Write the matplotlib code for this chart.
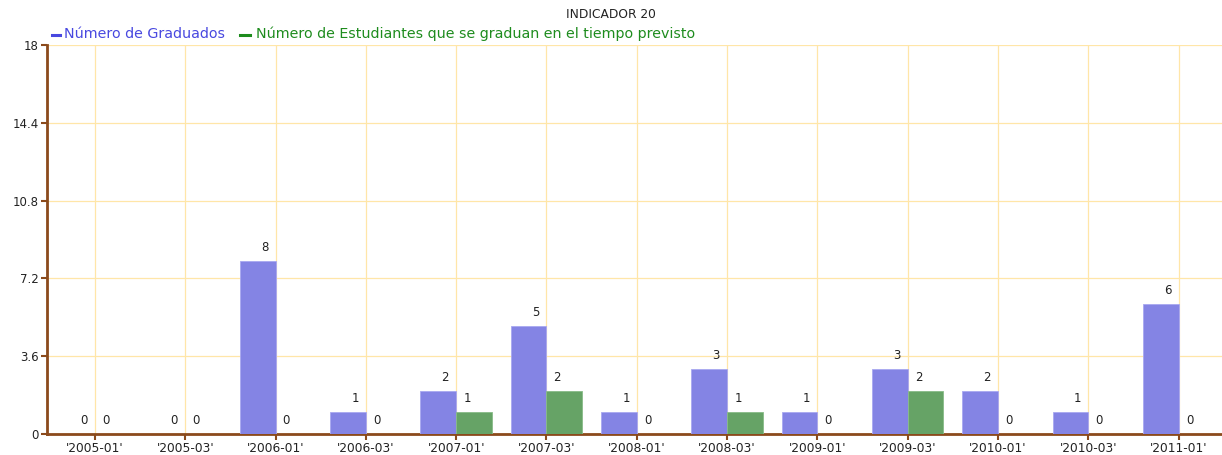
import matplotlib
matplotlib.use("Agg")
import matplotlib.pyplot as plt
from matplotlib.lines import Line2D
import numpy as np

categories = ["'2005-01'", "'2005-03'", "'2006-01'", "'2006-03'", "'2007-01'", "'2007-03'",
              "'2008-01'", "'2008-03'", "'2009-01'", "'2009-03'", "'2010-01'", "'2010-03'", "'2011-01'"]
graduados = [0, 0, 8, 1, 2, 5, 1, 3, 1, 3, 2, 1, 6]
a_tiempo = [0, 0, 0, 0, 1, 2, 0, 1, 0, 2, 0, 0, 0]
yticks = [0, 3.6, 7.2, 10.8, 14.4, 18]
ytick_labels = ["0", "3.6", "7.2", "10.8", "14.4", "18"]

blue = "#8484E4"
green = "#66A366"
brown = "#8B4A1C"
grid = "#FFE6A8"

fig = plt.figure(figsize=(12.22, 4.55), dpi=100)
ax = fig.add_axes([0.0385, 0.0462, 0.9615, 0.855])
x = np.arange(len(categories))
w = 0.395
ax.bar(x - w / 2, graduados, width=w, color=blue, edgecolor="#A8A8F0", linewidth=0.6, zorder=3)
ax.bar(x + w / 2, a_tiempo, width=w, color=green, edgecolor="#88BB88", linewidth=0.6, zorder=3)

for xi, g, t in zip(x, graduados, a_tiempo):
    ax.annotate(str(g), (xi - 0.12, g), xytext=(0, 5), textcoords="offset points",
                ha="center", va="bottom", fontsize=8.5, color="#222222")
    ax.annotate(str(t), (xi + 0.12, t), xytext=(0, 5), textcoords="offset points",
                ha="center", va="bottom", fontsize=8.5, color="#222222")

ax.set_xlim(-0.53, 12.48)
ax.set_ylim(0, 18)
ax.set_xticks(x)
ax.set_xticklabels(categories, fontsize=8.8)
ax.set_yticks(yticks)
ax.set_yticklabels(ytick_labels, fontsize=8.5)
ax.grid(True, color=grid, linewidth=0.9, zorder=0)
ax.set_axisbelow(True)
for s in ["top", "right"]:
    ax.spines[s].set_visible(False)
for s in ["left", "bottom"]:
    ax.spines[s].set_color(brown)
    ax.spines[s].set_linewidth(2)
ax.tick_params(axis="both", colors=brown, length=4, width=1.5, labelcolor="#222222", pad=2)

fig.text(0.5, 0.969, "INDICADOR 20", ha="center", va="center", fontsize=8.8, color="#222222")
ly = 1 - 34.5 / 455
fig.add_artist(Line2D([52 / 1222, 60 / 1222], [ly, ly], color="#4848E0", linewidth=2.2))
fig.text(0.0525, 0.925, "Número de Graduados", color="#4848E0", fontsize=10.3, va="center", ha="left")
fig.add_artist(Line2D([240 / 1222, 250 / 1222], [ly, ly], color="#1E8C1E", linewidth=2.2))
fig.text(0.2095, 0.925, "Número de Estudiantes que se graduan en el tiempo previsto", color="#1E8C1E",
         fontsize=10.3, va="center", ha="left")

fig.savefig("out.png", dpi=100, facecolor="white")
